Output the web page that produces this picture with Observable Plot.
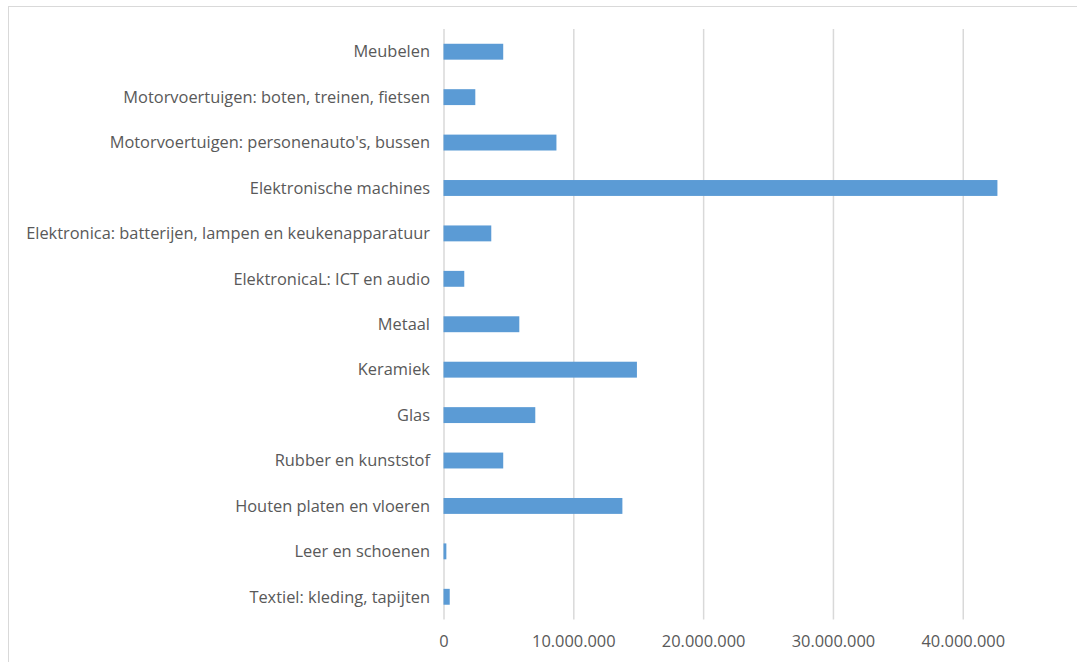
<!DOCTYPE html>
<html>
<head>
<meta charset="utf-8">
<script src="https://cdn.jsdelivr.net/npm/d3@7"></script>
<script src="https://cdn.jsdelivr.net/npm/@observablehq/plot@0.6"></script>
<style>
  html, body { margin: 0; padding: 0; background: #fff; }
  #wrap { position: relative; width: 1077px; height: 662px; overflow: hidden; }
  #frame { position: absolute; left: 8px; top: 6px; width: 1200px; height: 800px; border: 1px solid #d9d9d9; box-sizing: border-box; }
  #chart { position: absolute; left: 0; top: 0; }
  svg { font-family: "Open Sans", Lato, sans-serif; }
</style>
</head>
<body>
<div id="wrap"><div id="frame"></div><div id="chart"></div></div>
<script>
const categories = [
  "Meubelen",
  "Motorvoertuigen: boten, treinen, fietsen",
  "Motorvoertuigen: personenauto's, bussen",
  "Elektronische machines",
  "Elektronica: batterijen, lampen en keukenapparatuur",
  "ElektronicaL: ICT en audio",
  "Metaal",
  "Keramiek",
  "Glas",
  "Rubber en kunststof",
  "Houten platen en vloeren",
  "Leer en schoenen",
  "Textiel: kleding, tapijten"
];
const values = [
  4600000, 2450000, 8700000, 42670000, 3680000, 1600000, 5840000,
  14900000, 7070000, 4600000, 13780000, 220000, 480000
];
const xTicks = [0, 10000000, 20000000, 30000000, 40000000];
const fmt = d => d3.format(",")(d).replace(/,/g, ".");

const data = categories.map((c, i) => ({category: c, value: values[i]}));

const chart = Plot.plot({
  width: 1077,
  height: 662,
  marginLeft: 443.5,
  marginRight: 0,
  marginTop: 29,
  marginBottom: 42.5,
  style: {fontSize: "16.4px", color: "#595959", background: "transparent"},
  x: {domain: [0, 48800000], ticks: xTicks, tickFormat: fmt, label: null},
  y: {domain: categories, paddingInner: 0.65, paddingOuter: 0.325, align: 0.5, round: false, label: null},
  marks: [
    Plot.gridX(xTicks, {stroke: "#d9d9d9", strokeOpacity: 1, strokeWidth: 1.5}),
    Plot.barX(data, {x: "value", y: "category", fill: "#5b9bd5"}),
    Plot.axisX({ticks: xTicks, tickFormat: fmt, tickSize: 0, tickPadding: 15, fill: "#595959", label: null}),
    Plot.axisY({tickSize: 0, tickPadding: 14, fill: "#595959", label: null})
  ]
});
document.getElementById("chart").appendChild(chart);
</script>
</body>
</html>
